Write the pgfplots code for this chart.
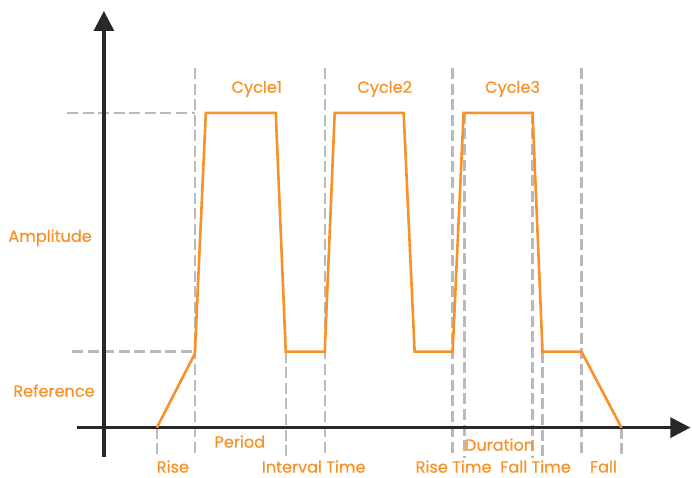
\documentclass[border=0pt]{standalone}
\usepackage{pgfplots}
\pgfplotsset{compat=1.18}
\usepackage{fontspec}
\setmainfont{Poppins}
\usetikzlibrary{arrows.meta}

\definecolor{wave}{RGB}{247,146,42}
\definecolor{guidec}{RGB}{185,185,185}
\definecolor{axisc}{RGB}{40,40,40}

\tikzset{
    guide/.style={color=guidec, line width=1.2bp, dash pattern=on 5.5bp off 2.3bp},
    lbl/.style={text=wave, font=\fontsize{8.1}{10}\selectfont\addfontfeature{FakeBold=0.6}, inner sep=0pt},
}

\begin{document}
\begin{tikzpicture}
\begin{axis}[
    scale only axis,
    width=346bp, height=239bp,
    xmin=0, xmax=692,
    ymin=0, ymax=478,
    hide axis,
    clip=false,
]
\path (rel axis cs:0,0) rectangle (rel axis cs:1,1);

% guide lines
\addplot[guide, forget plot] coordinates {(67,365)(195,365)};
\addplot[guide, forget plot] coordinates {(72,126)(195,126)};
\addplot[guide, forget plot] coordinates {(157,50)(157,21)};
\addplot[guide, forget plot] coordinates {(195,410)(195,21)};
\addplot[guide, forget plot] coordinates {(286,126)(286,21)};
\addplot[guide, forget plot] coordinates {(325,410)(325,21)};
\addplot[guide, forget plot] coordinates {(453,410)(453,20)};
\addplot[guide, forget plot] coordinates {(465,365)(465,20)};
\addplot[guide, forget plot] coordinates {(533,365)(533,20)};
\addplot[guide, forget plot] coordinates {(543,126)(543,20)};
\addplot[guide, forget plot] coordinates {(582,410)(582,20)};
\addplot[guide, forget plot] coordinates {(622,50)(622,20)};

% axes
\addplot[axisc, line width=1.6bp, -{Triangle[width=10bp,length=10bp]}] coordinates {(77,50)(691,50)};
\addplot[axisc, line width=1.6bp, -{Triangle[width=10bp,length=10bp]}] coordinates {(104,21)(104,467)};

% waveform
\addplot[wave, line width=1.3bp, line join=miter] coordinates {
    (157,50)(195,124)(206,365)(276,365)(286,126)(325,126)
    (335,365)(404,365)(415,126)(453,126)(464,365)(533,365)
    (543,126)(582,126)(622,50)
};

% labels
\node[lbl, anchor=west] at (axis cs:8,240) {Amplitude};
\node[lbl, anchor=west] at (axis cs:13,87) {Reference};
\node[lbl] at (axis cs:257,389) {Cycle1};
\node[lbl] at (axis cs:385,389) {Cycle2};
\node[lbl] at (axis cs:513,389) {Cycle3};
\node[lbl] at (axis cs:240,36) {Period};
\node[lbl] at (axis cs:500,33) {Duration};
\node[lbl] at (axis cs:173,11) {Rise};
\node[lbl] at (axis cs:314,11) {Interval Time};
\node[lbl] at (axis cs:454,11) {Rise Time};
\node[lbl] at (axis cs:536,11) {Fall Time};
\node[lbl] at (axis cs:604,11) {Fall};
\end{axis}
\end{tikzpicture}
\end{document}
